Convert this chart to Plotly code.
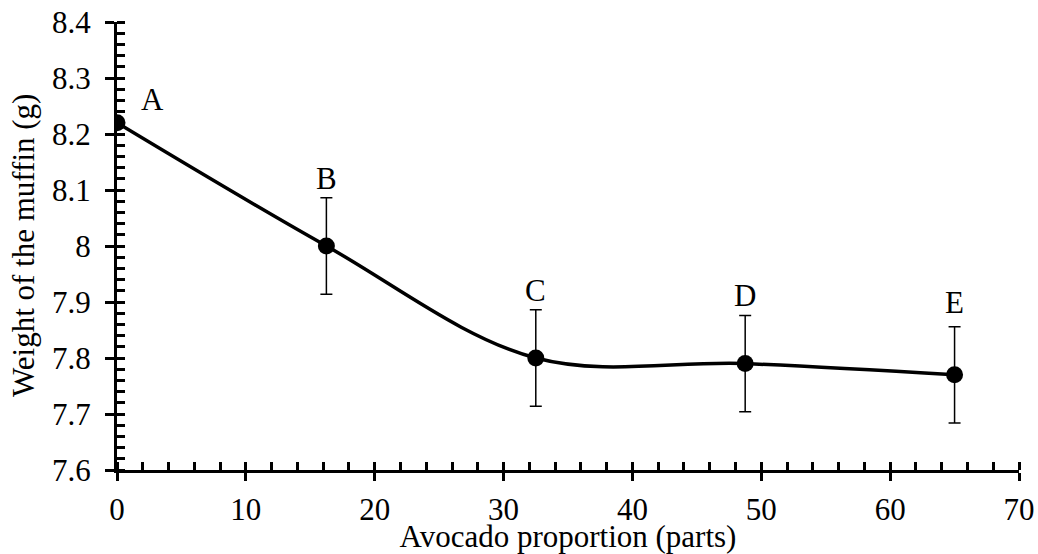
import plotly.graph_objects as go

# Muffin weight against avocado proportion
avocado_parts = [0, 16.25, 32.5, 48.75, 65]
muffin_weight = [8.22, 8.00, 7.80, 7.79, 7.77]
weight_error = [0.0, 0.086, 0.086, 0.086, 0.086]
group_letters = ["A", "B", "C", "D", "E"]

FONT = "Liberation Serif"
SIZE = 31
serif = dict(family=FONT, size=SIZE, color="black")

fig = go.Figure()
fig.add_trace(go.Scatter(
    x=avocado_parts,
    y=muffin_weight,
    mode="lines+markers",
    line=dict(color="black", width=3.5, shape="spline", smoothing=1),
    marker=dict(color="black", size=17),
    error_y=dict(type="data", array=weight_error, visible=True,
                 color="black", thickness=1.5, width=6),
    showlegend=False,
    hoverinfo="skip",
))

# letter labels sit above each error bar (pixel offsets: x, y)
label_shift = {"A": (35, 23), "B": (0, 19), "C": (0, 19), "D": (0, 20), "E": (0, 24)}
for xv, yv, ev, letter in zip(avocado_parts, muffin_weight, weight_error, group_letters):
    dx, dy = label_shift[letter]
    fig.add_annotation(x=xv, y=yv + ev, text=letter, showarrow=False,
                       xanchor="center", yanchor="middle",
                       xshift=dx, yshift=dy, font=serif)

# vertical axis title, set close to the tick labels
fig.add_annotation(text="Weight of the muffin (g)", textangle=-90,
                   xref="paper", yref="paper", x=0, y=0.5,
                   xanchor="center", yanchor="middle", xshift=-94,
                   showarrow=False, font=serif)

fig.update_layout(
    width=1038, height=554,
    margin=dict(l=117, r=19, t=22, b=84, autoexpand=False),
    paper_bgcolor="white", plot_bgcolor="white",
    font=serif,
)

fig.update_xaxes(
    range=[0, 70], dtick=10, tick0=0, ticks="outside", ticklen=8,
    ticklabelstandoff=2, automargin=False,
    minor=dict(dtick=2, ticks="inside", ticklen=8, tickcolor="black", tickwidth=2.5),
    title=dict(text="Avocado proportion (parts)", font=serif, standoff=0),
    showgrid=False, zeroline=False, showline=True, linecolor="black", linewidth=3,
    tickcolor="black", tickwidth=3, tickfont=serif,
)
fig.update_yaxes(
    range=[7.6, 8.4], dtick=0.1, tick0=7.6, ticks="outside", ticklen=9,
    ticklabelstandoff=8, automargin=False,
    minor=dict(dtick=0.02, ticks="inside", ticklen=8, tickcolor="black", tickwidth=2.5),
    showgrid=False, zeroline=False, showline=True, linecolor="black", linewidth=3,
    tickcolor="black", tickwidth=3, tickfont=serif,
)

# inner halves of the major ticks, on overlay axes
fig.update_layout(
    xaxis2=dict(overlaying="x", range=[0, 70], dtick=10, tick0=0,
                ticks="inside", ticklen=7, tickwidth=3, tickcolor="black",
                showticklabels=False, showgrid=False, zeroline=False,
                showline=False, side="bottom", anchor="y2", automargin=False),
    yaxis2=dict(overlaying="y", range=[7.6, 8.4], dtick=0.1, tick0=7.6,
                ticks="inside", ticklen=8, tickwidth=3, tickcolor="black",
                showticklabels=False, showgrid=False, zeroline=False,
                showline=False, side="left", anchor="x2", automargin=False),
)
fig.add_trace(go.Scatter(x=[None], y=[None], xaxis="x2", yaxis="y2",
                         showlegend=False, hoverinfo="skip"))

fig.write_html("out.html")
